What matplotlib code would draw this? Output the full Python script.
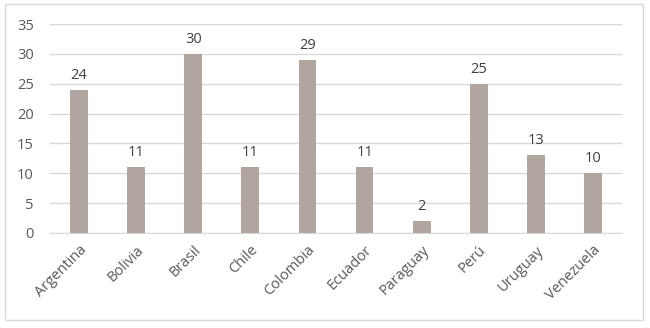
import matplotlib.pyplot as plt
from matplotlib.patches import Rectangle

countries = ["Argentina", "Bolivia", "Brasil", "Chile", "Colombia",
             "Ecuador", "Paraguay", "Perú", "Uruguay", "Venezuela"]
values = [24, 11, 30, 11, 29, 11, 2, 25, 13, 10]

plt.rcParams['font.family'] = ['Open Sans', 'DejaVu Sans']
text_col = "#595959"

fig = plt.figure(figsize=(6.5, 3.28), dpi=100)
# outer chart border
fig.patches.append(Rectangle((5 / 650, 8 / 328), 638 / 650, 316 / 328, transform=fig.transFigure,
                             fill=False, edgecolor="#d9d9d9", linewidth=1))
ax = fig.add_axes([50.5 / 650, 95 / 328, 571 / 650, 209 / 328])

x = range(len(countries))
ax.bar(x, values, width=0.31, color="#b0a69f", zorder=2)
for xi, v in zip(x, values):
    ax.text(xi, v + 1.2, str(v), ha="center", va="bottom", fontsize=10.5, color="#404040")

ax.set_xlim(-0.5, len(countries) - 0.5)
ax.set_ylim(0, 35)
ax.set_yticks(range(0, 36, 5))
ax.yaxis.grid(True, color="#d9d9d9", linewidth=1, zorder=0)
ax.set_xticks(list(x))
ax.set_xticklabels(countries, rotation=45, ha="right", rotation_mode="anchor")
ax.tick_params(length=0, labelsize=10.5, colors=text_col)
ax.tick_params(axis="y", pad=12)
ax.tick_params(axis="x", pad=7)
for s in ["top", "right", "left"]:
    ax.spines[s].set_visible(False)
ax.spines["bottom"].set_color("#d9d9d9")

fig.savefig("out.png", dpi=100)
